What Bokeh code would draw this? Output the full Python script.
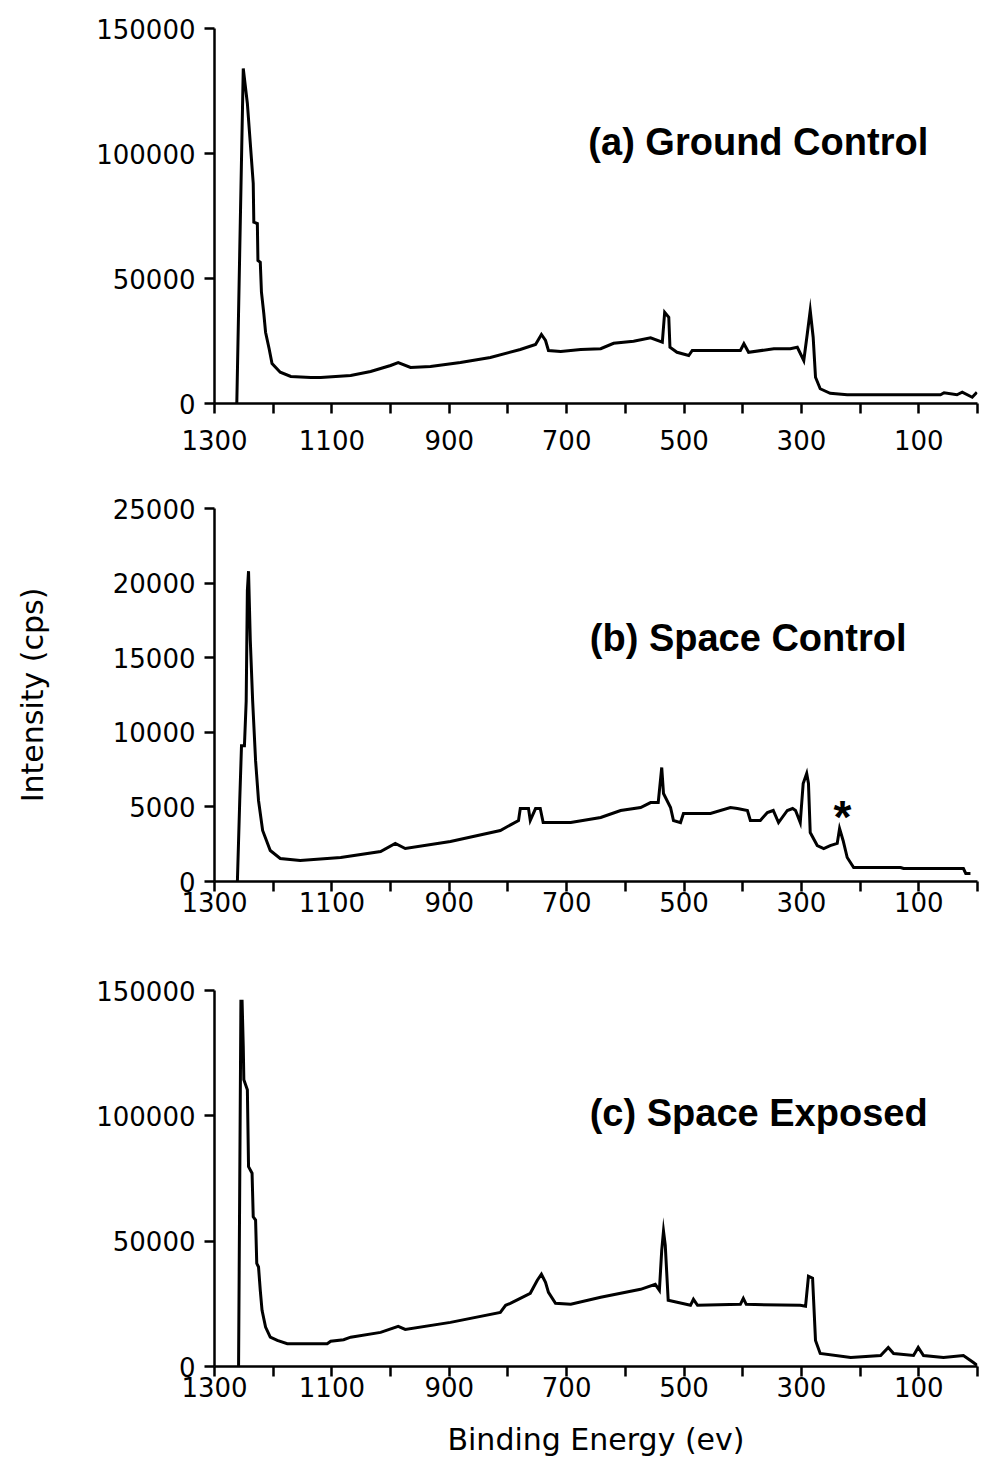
from bokeh.plotting import figure
from bokeh.models import Range1d, FixedTicker, Label, NumeralTickFormatter
from bokeh.layouts import column
from bokeh.embed import file_html
from bokeh.resources import INLINE

# ---------------- data ----------------
x_ticks = [0, 100, 200, 300, 400, 500, 600, 700, 800, 900, 1000, 1100, 1200, 1300]
x_tick_labels = ["1300", "1100", "900", "700", "500", "300", "100"]

# (a) Ground Control
energy_a = [1262, 1251, 1244, 1234, 1233, 1227, 1226, 1222, 1220, 1216, 1213, 1207,
            1202, 1188, 1170, 1136, 1119, 1068, 1034, 1000, 987, 966, 932, 881, 830,
            779, 753, 743, 736, 731, 710, 676, 642, 620, 586, 557, 537, 533, 526, 524,
            512, 492, 486, 404, 398, 390, 347, 319, 307, 296, 290, 285, 280, 276, 268,
            251, 222, 63, 57, 35, 26, 9, 1]
counts_a = [0, 134000, 120000, 88000, 72500, 72000, 57200, 56500, 44500, 36000, 28500,
            22000, 16000, 12500, 10800, 10400, 10400, 11200, 12800, 15200, 16400, 14400,
            14800, 16400, 18400, 21600, 23600, 27600, 25200, 21200, 20800, 21600, 21900,
            24100, 24900, 26300, 24500, 36500, 34500, 22500, 20500, 19200, 21200, 21200,
            23900, 20500, 21900, 21900, 22500, 17200, 27900, 37200, 26500, 10500, 5900,
            4100, 3500, 3500, 4300, 3500, 4500, 2500, 4500]

# (b) Space Control
energy_b = [1261, 1257, 1254, 1249, 1246, 1244, 1242, 1239, 1235, 1230, 1225, 1218,
            1205, 1188, 1154, 1085, 1017, 992, 975, 898, 813, 782, 779, 765, 762, 753,
            745, 740, 693, 642, 608, 574, 557, 544, 538, 535, 523, 518, 506, 501, 455,
            421, 409, 392, 387, 370, 358, 348, 339, 324, 315, 310, 302, 297, 291, 288,
            285, 273, 262, 251, 239, 235, 229, 222, 211, 131, 126, 24, 20, 12]
counts_b = [0, 5430, 9100, 9100, 12100, 19500, 20800, 16150, 12100, 8100, 5430, 3420,
            2080, 1540, 1410, 1610, 2010, 2550, 2210, 2680, 3420, 4090, 4890, 4890, 4090,
            4890, 4890, 3950, 3950, 4290, 4760, 4960, 5290, 5290, 7640, 5900, 4960, 4090,
            3950, 4560, 4560, 4960, 4890, 4760, 4090, 4090, 4620, 4760, 3950, 4760, 4890,
            4760, 3950, 6570, 7240, 6570, 3280, 2410, 2210, 2410, 2550, 3550, 2750, 1610,
            940, 940, 870, 870, 540, 540]

# (c) Space Exposed
energy_c = [1259, 1255, 1253, 1251, 1250, 1244, 1242, 1236, 1234, 1230, 1228, 1225,
            1222, 1219, 1213, 1205, 1193, 1176, 1108, 1102, 1080, 1068, 1017, 987, 975,
            898, 813, 804, 796, 779, 762, 750, 743, 736, 731, 719, 693, 642, 574, 549,
            542, 538, 535, 532, 527, 489, 484, 477, 404, 399, 394, 302, 293, 288, 281,
            276, 268, 216, 165, 152, 143, 109, 101, 92, 58, 24, 7, 1]
counts_c = [0, 145700, 145700, 127700, 114400, 110400, 79700, 77100, 59700, 58400,
            41100, 39700, 30400, 22400, 15700, 11700, 10400, 9100, 9100, 10100, 10700,
            11700, 13600, 16000, 14800, 17600, 21600, 24400, 25200, 27200, 29200, 34400,
            36800, 33600, 29600, 25200, 24800, 27600, 30800, 32800, 30400, 46400, 54000,
            48400, 26400, 24400, 26800, 24400, 24800, 27200, 24800, 24400, 24000, 36000,
            35200, 10400, 5200, 3600, 4400, 7600, 5200, 4400, 7600, 4400, 3600, 4400,
            1600, 500]

titles = ["(a) Ground Control", "(b) Space Control", "(c) Space Exposed"]
y_ticks_big = [0, 50000, 100000, 150000]
y_ticks_small = [0, 5000, 10000, 15000, 20000, 25000]

FONT = "DejaVu Sans"


def make_panel(energy, counts, ymax, yticks, frame_h, top, bottom, xstandoff,
               title, tx, ty, ylabel="", xlabel=""):
    p = figure(output_backend="svg", toolbar_location=None,
               frame_width=763, frame_height=frame_h,
               x_range=Range1d(1300, 0), y_range=Range1d(0, ymax),
               min_border_left=214, min_border_right=5,
               min_border_top=top, min_border_bottom=bottom)
    p.outline_line_color = None
    p.grid.visible = False
    p.line(energy, counts, line_color="black", line_width=3, line_join="miter")

    xa = p.xaxis[0]
    xa.ticker = FixedTicker(ticks=x_ticks)
    xa.major_label_overrides = {t: (str(t) if str(t) in x_tick_labels else "")
                                for t in x_ticks}
    ya = p.yaxis[0]
    ya.ticker = FixedTicker(ticks=yticks)
    ya.formatter = NumeralTickFormatter(format="0")
    for ax in (xa, ya):
        ax.axis_line_width = 2.5
        ax.axis_line_color = "black"
        ax.major_tick_line_width = 2.5
        ax.major_tick_line_color = "black"
        ax.major_tick_out = 10
        ax.major_tick_in = 0
        ax.minor_tick_out = 0
        ax.minor_tick_in = 0
        ax.major_label_text_font = FONT
        ax.major_label_text_font_size = "26px"
        ax.major_label_text_color = "black"
        ax.axis_label_text_font = FONT
        ax.axis_label_text_font_size = "30px"
        ax.axis_label_text_font_style = "normal"
        ax.axis_label_text_color = "black"
    xa.major_label_standoff = xstandoff
    ya.major_label_standoff = 9
    if ylabel:
        ya.axis_label = ylabel
        ya.axis_label_standoff = 60
    if xlabel:
        xa.axis_label = xlabel
        xa.axis_label_standoff = 22

    p.add_layout(Label(x=tx, y=ty, text=title, text_align="right",
                       text_baseline="middle", text_font="Liberation Sans",
                       text_font_style="bold", text_font_size="38px",
                       text_color="black"))
    return p


pa = make_panel(energy_a, counts_a, 150000, y_ticks_big, 375, 28, 57, 16,
                titles[0], 84, 104800)
pb = make_panel(energy_b, counts_b, 25000, y_ticks_small, 373, 48, 64, 0,
                titles[1], 121, 16300, ylabel="Intensity (cps)")
pb.add_layout(Label(x=230, y=4300, text="*", text_align="center",
                    text_baseline="middle", text_font="Liberation Sans",
                    text_font_style="bold", text_font_size="46px",
                    text_color="black"))
pc = make_panel(energy_c, counts_c, 150000, y_ticks_big, 376, 45, 92, 0,
                titles[2], 85, 101300, xlabel="Binding Energy (ev)")

layout = column(pa, pb, pc)
open("out.html", "w").write(file_html(layout, INLINE))
